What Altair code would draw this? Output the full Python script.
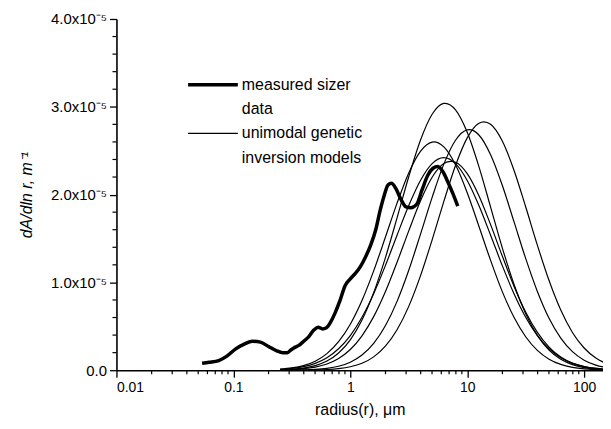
import altair as alt
import pandas as pd

# ---- measured sizer data (radius in um, dA/dln r in 1e-5 m^-1) ----
meas_r = [0.054, 0.062, 0.075, 0.088, 0.104, 0.125, 0.145, 0.17, 0.20, 0.235,
          0.265, 0.29, 0.31, 0.335, 0.36, 0.40, 0.44, 0.49, 0.53, 0.58,
          0.62, 0.68, 0.74, 0.82, 0.90, 1.0, 1.1, 1.22, 1.35, 1.5,
          1.65, 1.8, 1.95, 2.1, 2.25, 2.45, 2.7, 3.0, 3.3, 3.7,
          4.1, 4.6, 5.1, 5.6, 6.2, 6.8, 7.5, 8.3]
meas_v = [0.08, 0.09, 0.11, 0.16, 0.24, 0.30, 0.33, 0.32, 0.27, 0.22,
          0.20, 0.20, 0.23, 0.26, 0.28, 0.33, 0.38, 0.46, 0.49, 0.47,
          0.48, 0.55, 0.65, 0.80, 0.96, 1.04, 1.10, 1.18, 1.29, 1.43,
          1.60, 1.82, 1.99, 2.11, 2.13, 2.07, 1.95, 1.86, 1.85, 1.89,
          2.05, 2.22, 2.30, 2.32, 2.26, 2.15, 2.02, 1.87]

# ---- unimodal genetic inversion models ----
model_r = [0.251, 0.316, 0.398, 0.501, 0.631, 0.794, 1.0, 1.259, 1.585, 1.995,
           2.512, 3.162, 3.981, 5.012, 6.31, 7.943, 10.0, 12.59, 15.85, 19.95,
           25.12, 31.62, 39.81, 50.12, 63.1, 79.43, 100.0, 125.9, 158.5, 199.5]
model_a = [0.004, 0.011, 0.024, 0.052, 0.104, 0.196, 0.346, 0.571, 0.884, 1.280,
           1.735, 2.203, 2.619, 2.915, 3.038, 2.965, 2.710, 2.319, 1.858, 1.394,
           0.979, 0.644, 0.397, 0.229, 0.124, 0.063, 0.030, 0.013, 0.005, 0.002]
model_b = [0.000, 0.000, 0.001, 0.003, 0.008, 0.018, 0.039, 0.079, 0.152, 0.274,
           0.461, 0.727, 1.074, 1.485, 1.922, 2.331, 2.646, 2.813, 2.800, 2.610,
           2.278, 1.861, 1.424, 1.021, 0.685, 0.430, 0.253, 0.139, 0.072, 0.035]
model_c = [0.001, 0.001, 0.004, 0.009, 0.021, 0.045, 0.091, 0.173, 0.306, 0.506,
           0.784, 1.138, 1.547, 1.969, 2.347, 2.619, 2.737, 2.679, 2.454, 2.106,
           1.692, 1.273, 0.897, 0.591, 0.365, 0.211, 0.114, 0.058, 0.028, 0.012]
model_d = [0.012, 0.026, 0.053, 0.103, 0.189, 0.325, 0.524, 0.794, 1.131, 1.514,
           1.903, 2.247, 2.493, 2.598, 2.543, 2.339, 2.021, 1.640, 1.251, 0.895,
           0.603, 0.381, 0.226, 0.126, 0.066, 0.033, 0.015, 0.007, 0.003, 0.001]
model_e = [0.009, 0.020, 0.041, 0.078, 0.142, 0.244, 0.395, 0.604, 0.872, 1.191,
           1.538, 1.875, 2.161, 2.353, 2.420, 2.353, 2.161, 1.875, 1.538, 1.191,
           0.872, 0.604, 0.395, 0.244, 0.142, 0.078, 0.041, 0.020, 0.009, 0.004]
model_f = [0.003, 0.007, 0.017, 0.036, 0.071, 0.134, 0.236, 0.392, 0.610, 0.893,
           1.229, 1.587, 1.927, 2.197, 2.353, 2.368, 2.239, 1.988, 1.658, 1.300,
           0.957, 0.662, 0.430, 0.263, 0.150, 0.081, 0.041, 0.020, 0.009, 0.004]

# ---- axis ticks ----
x_major = [0.01, 0.1, 1, 10, 100]
x_minor = [0.02, 0.03, 0.04, 0.05, 0.06, 0.07, 0.08, 0.09,
           0.2, 0.3, 0.4, 0.5, 0.6, 0.7, 0.8, 0.9,
           2, 3, 4, 5, 6, 7, 8, 9,
           20, 30, 40, 50, 60, 70, 80, 90]
y_major = [0, 1, 2, 3, 4]
y_minor = [0.2, 0.4, 0.6, 0.8, 1.2, 1.4, 1.6, 1.8, 2.2, 2.4, 2.6, 2.8,
           3.2, 3.4, 3.6, 3.8]

legend_meas = ["measured sizer", "data"]
legend_model = ["unimodal genetic", "inversion models"]

FONT = "Liberation Sans"

models = {"a": model_a, "b": model_b, "c": model_c,
          "d": model_d, "e": model_e, "f": model_f}
rows = []
for name, vals in models.items():
    for r, v in zip(model_r, vals):
        rows.append({"r": r, "v": v, "model": name})
model_df = pd.DataFrame(rows)
meas_df = pd.DataFrame({"r": meas_r, "v": meas_v})
xminor_df = pd.DataFrame({"r": x_minor})
yminor_df = pd.DataFrame({"v": y_minor})

x_scale = alt.Scale(type="log", domain=[0.01, 145], nice=False)
y_scale = alt.Scale(domain=[0, 4], nice=False)

W, H = 489, 353

models_chart = alt.Chart(model_df).mark_line(
    color="black", strokeWidth=1.2, clip=True, interpolate="cardinal"
).encode(
    x=alt.X("r:Q", scale=x_scale, axis=alt.Axis(
        values=x_major, format="~g", tickSize=7, labelPadding=3,
        labelFontSize=14, title="radius(r), μm", titlePadding=8)),
    y=alt.Y("v:Q", scale=y_scale, axis=alt.Axis(
        values=y_major, tickSize=7, labelPadding=3, labelFontSize=15,
        labelExpr="datum.value == 0 ? '0.0' : format(datum.value, '.1f') + 'x10⁻⁵'",
        title="dA/dln r, m⁻¹", titleFontStyle="italic", titlePadding=16)),
    detail="model:N",
)

meas_chart = alt.Chart(meas_df).mark_line(
    color="black", strokeWidth=3.5, interpolate="monotone"
).encode(
    x=alt.X("r:Q", scale=x_scale),
    y=alt.Y("v:Q", scale=y_scale),
)

# minor ticks placed through the scales
x_minor_ticks = alt.Chart(xminor_df).mark_rule(color="black", strokeWidth=1.2).encode(
    x=alt.X("r:Q", scale=x_scale), y=alt.value(H), y2=alt.value(H + 4))
y_minor_ticks = alt.Chart(yminor_df).mark_rule(color="black", strokeWidth=1.2).encode(
    y=alt.Y("v:Q", scale=y_scale), x=alt.value(-4), x2=alt.value(0))

one = pd.DataFrame({"k": [0]})


def leg_rule(y, sw):
    return alt.Chart(one).mark_rule(color="black", strokeWidth=sw).encode(
        x=alt.value(72), x2=alt.value(122), y=alt.value(y))


def leg_text(txt, y):
    return alt.Chart(one).mark_text(
        text=txt, align="left", baseline="middle", font=FONT, fontSize=16,
        color="black").encode(x=alt.value(126), y=alt.value(y))


legend = (leg_rule(66, 3.5) + leg_rule(115, 1.2)
          + leg_text(legend_meas[0], 66) + leg_text(legend_meas[1], 90)
          + leg_text(legend_model[0], 115) + leg_text(legend_model[1], 140))

chart = alt.layer(models_chart, meas_chart, x_minor_ticks, y_minor_ticks, legend).properties(
    width=W, height=H,
    padding={"left": 10, "top": 3, "right": 0, "bottom": 0},
).configure_view(stroke=None).configure_axis(
    domainColor="black", domainWidth=1.6, tickColor="black", tickWidth=1.3,
    grid=False, labelFont=FONT, labelColor="black",
    titleFont=FONT, titleFontSize=16, titleColor="black", titleFontWeight="normal",
)

chart.save("out.html", embed_options={"renderer": "svg", "actions": False})
